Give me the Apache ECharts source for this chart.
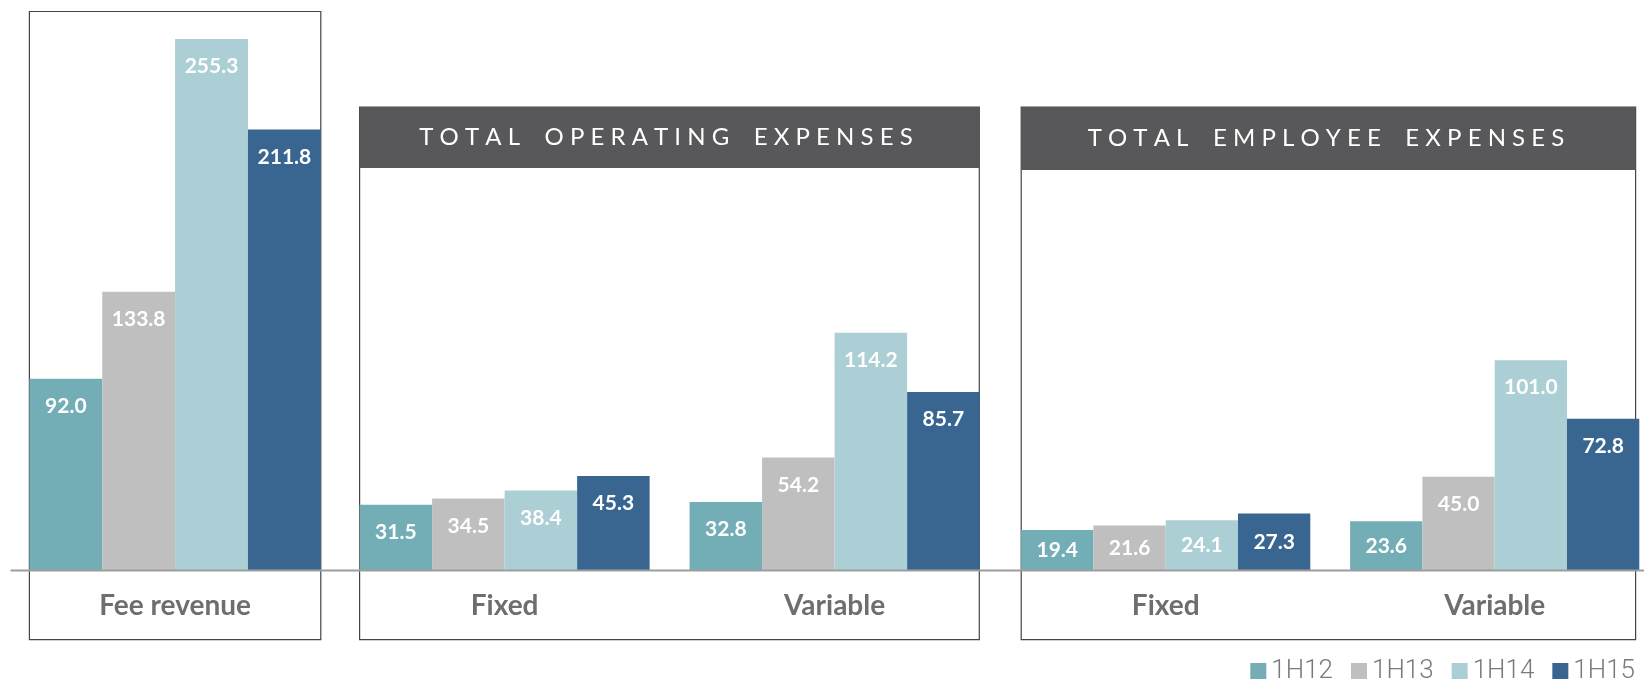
<!DOCTYPE html>
<html>
<head>
<meta charset="utf-8">
<script src="https://cdn.jsdelivr.net/npm/echarts@6/dist/echarts.min.js"></script>
<style>
  html, body { margin: 0; padding: 0; background: #fff; }
  #chart { width: 1644px; height: 688px; }
</style>
</head>
<body>
<div id="chart"></div>
<script>
// data
const periods = ["1H12", "1H13", "1H14", "1H15"];
const revenueCategories = ["Fee revenue"];
const feeRevenue = [92.0, 133.8, 255.3, 211.8];
const expenseCategories = ["Fixed", "Variable"];
const opexFixed = [31.5, 34.5, 38.4, 45.3];
const opexVariable = [32.8, 54.2, 114.2, 85.7];
const empFixed = [19.4, 21.6, 24.1, 27.3];
const empVariable = [23.6, 45.0, 101.0, 72.8];
const panelTitles = ["TOTAL OPERATING EXPENSES", "TOTAL EMPLOYEE EXPENSES"];

const periodColors = ["#73aeb6", "#bfbfbf", "#abcfd4", "#386690"];

// layout (px)
const yMax = 260;
const gridTop = 29.1;
const gridHeight = 541.3;
const baselineY = gridTop + gridHeight;
const boxBottom = 639.6;

const chart = echarts.init(document.getElementById("chart"));

// spread letters like the header style in the original
const spaced = (s) => s.split(" ").map((w) => w.split("").join(" ")).join("    ");

// short bars get the label centred, the rest sit under the bar top
const barLabel = (v) => ({
  value: v,
  label: { position: v < 28 ? "inside" : "insideTop" },
});

const makeSeries = (gridIdx, groups) =>
  periods.map((p, i) => ({
    name: p,
    type: "bar",
    xAxisIndex: gridIdx,
    yAxisIndex: gridIdx,
    barGap: 0,
    barCategoryGap: gridIdx === 0 ? 0 : "12.1%",
    itemStyle: { color: periodColors[i] },
    label: {
      show: true,
      distance: 17,
      color: "#fff",
      fontSize: 21,
      fontFamily: "Lato",
      fontWeight: "bold",
      formatter: (d) => d.value.toFixed(1),
    },
    data: groups.map((g) => barLabel(g[i])),
  }));

const axisLabel = {
  margin: 22,
  fontSize: 28,
  color: "#6e6e6e",
  fontFamily: "Lato",
  fontWeight: "bold",
};

const grids = [
  { left: 29.4, width: 291.4 },
  { left: 339.6, width: 660 },
  { left: 1001.2, width: 658 },
].map((g) => ({ ...g, top: gridTop, height: gridHeight, outerBoundsMode: "none", containLabel: false }));

const categoryData = [revenueCategories, expenseCategories, expenseCategories];

const option = {
  animation: false,
  grid: grids,
  xAxis: categoryData.map((c, i) => ({
    type: "category",
    gridIndex: i,
    data: c,
    axisLine: { show: false },
    axisTick: { show: false },
    axisLabel: axisLabel,
  })),
  yAxis: grids.map((g, i) => ({
    type: "value",
    gridIndex: i,
    min: 0,
    max: yMax,
    show: false,
  })),
  legend: {
    data: periods,
    right: 9,
    top: 658,
    padding: 0,
    icon: "rect",
    itemWidth: 16,
    itemHeight: 16,
    itemGap: 18,
    textStyle: {
      fontSize: 26,
      color: "#7a7a7a",
      fontFamily: "Roboto, sans-serif",
      fontWeight: 300,
    },
  },
  series: [
    ...makeSeries(0, [feeRevenue]),
    ...makeSeries(1, [opexFixed, opexVariable]),
    ...makeSeries(2, [empFixed, empVariable]),
  ],
  graphic: [
    // panel frames
    { type: "rect", z: 0, shape: { x: 29.4, y: 11.5, width: 291.4, height: boxBottom - 11.5 },
      style: { fill: null, stroke: "#444", lineWidth: 1.2 } },
    { type: "rect", z: 0, shape: { x: 359.6, y: 107, width: 619.7, height: boxBottom - 107 },
      style: { fill: null, stroke: "#444", lineWidth: 1.2 } },
    { type: "rect", z: 0, shape: { x: 1021.2, y: 107, width: 614.4, height: boxBottom - 107 },
      style: { fill: null, stroke: "#444", lineWidth: 1.2 } },
    // header bands
    { type: "rect", z: 1, shape: { x: 359.6, y: 107, width: 619.7, height: 61 },
      style: { fill: "#58585a" } },
    { type: "rect", z: 1, shape: { x: 1021.2, y: 107, width: 614.4, height: 63 },
      style: { fill: "#58585a" } },
    { type: "text", z: 2, x: 666, y: 137.5,
      style: { text: spaced(panelTitles[0]), fill: "#fff", fontSize: 24, fontFamily: "Lato",
        align: "center", verticalAlign: "middle" } },
    { type: "text", z: 2, x: 1326, y: 138.5,
      style: { text: spaced(panelTitles[1]), fill: "#fff", fontSize: 24, fontFamily: "Lato",
        align: "center", verticalAlign: "middle" } },
    // baseline
    { type: "line", z: 10, shape: { x1: 10.5, y1: baselineY, x2: 1644, y2: baselineY },
      style: { stroke: "#9d9d9d", lineWidth: 2 } },
  ],
};

chart.setOption(option);
</script>
</body>
</html>
